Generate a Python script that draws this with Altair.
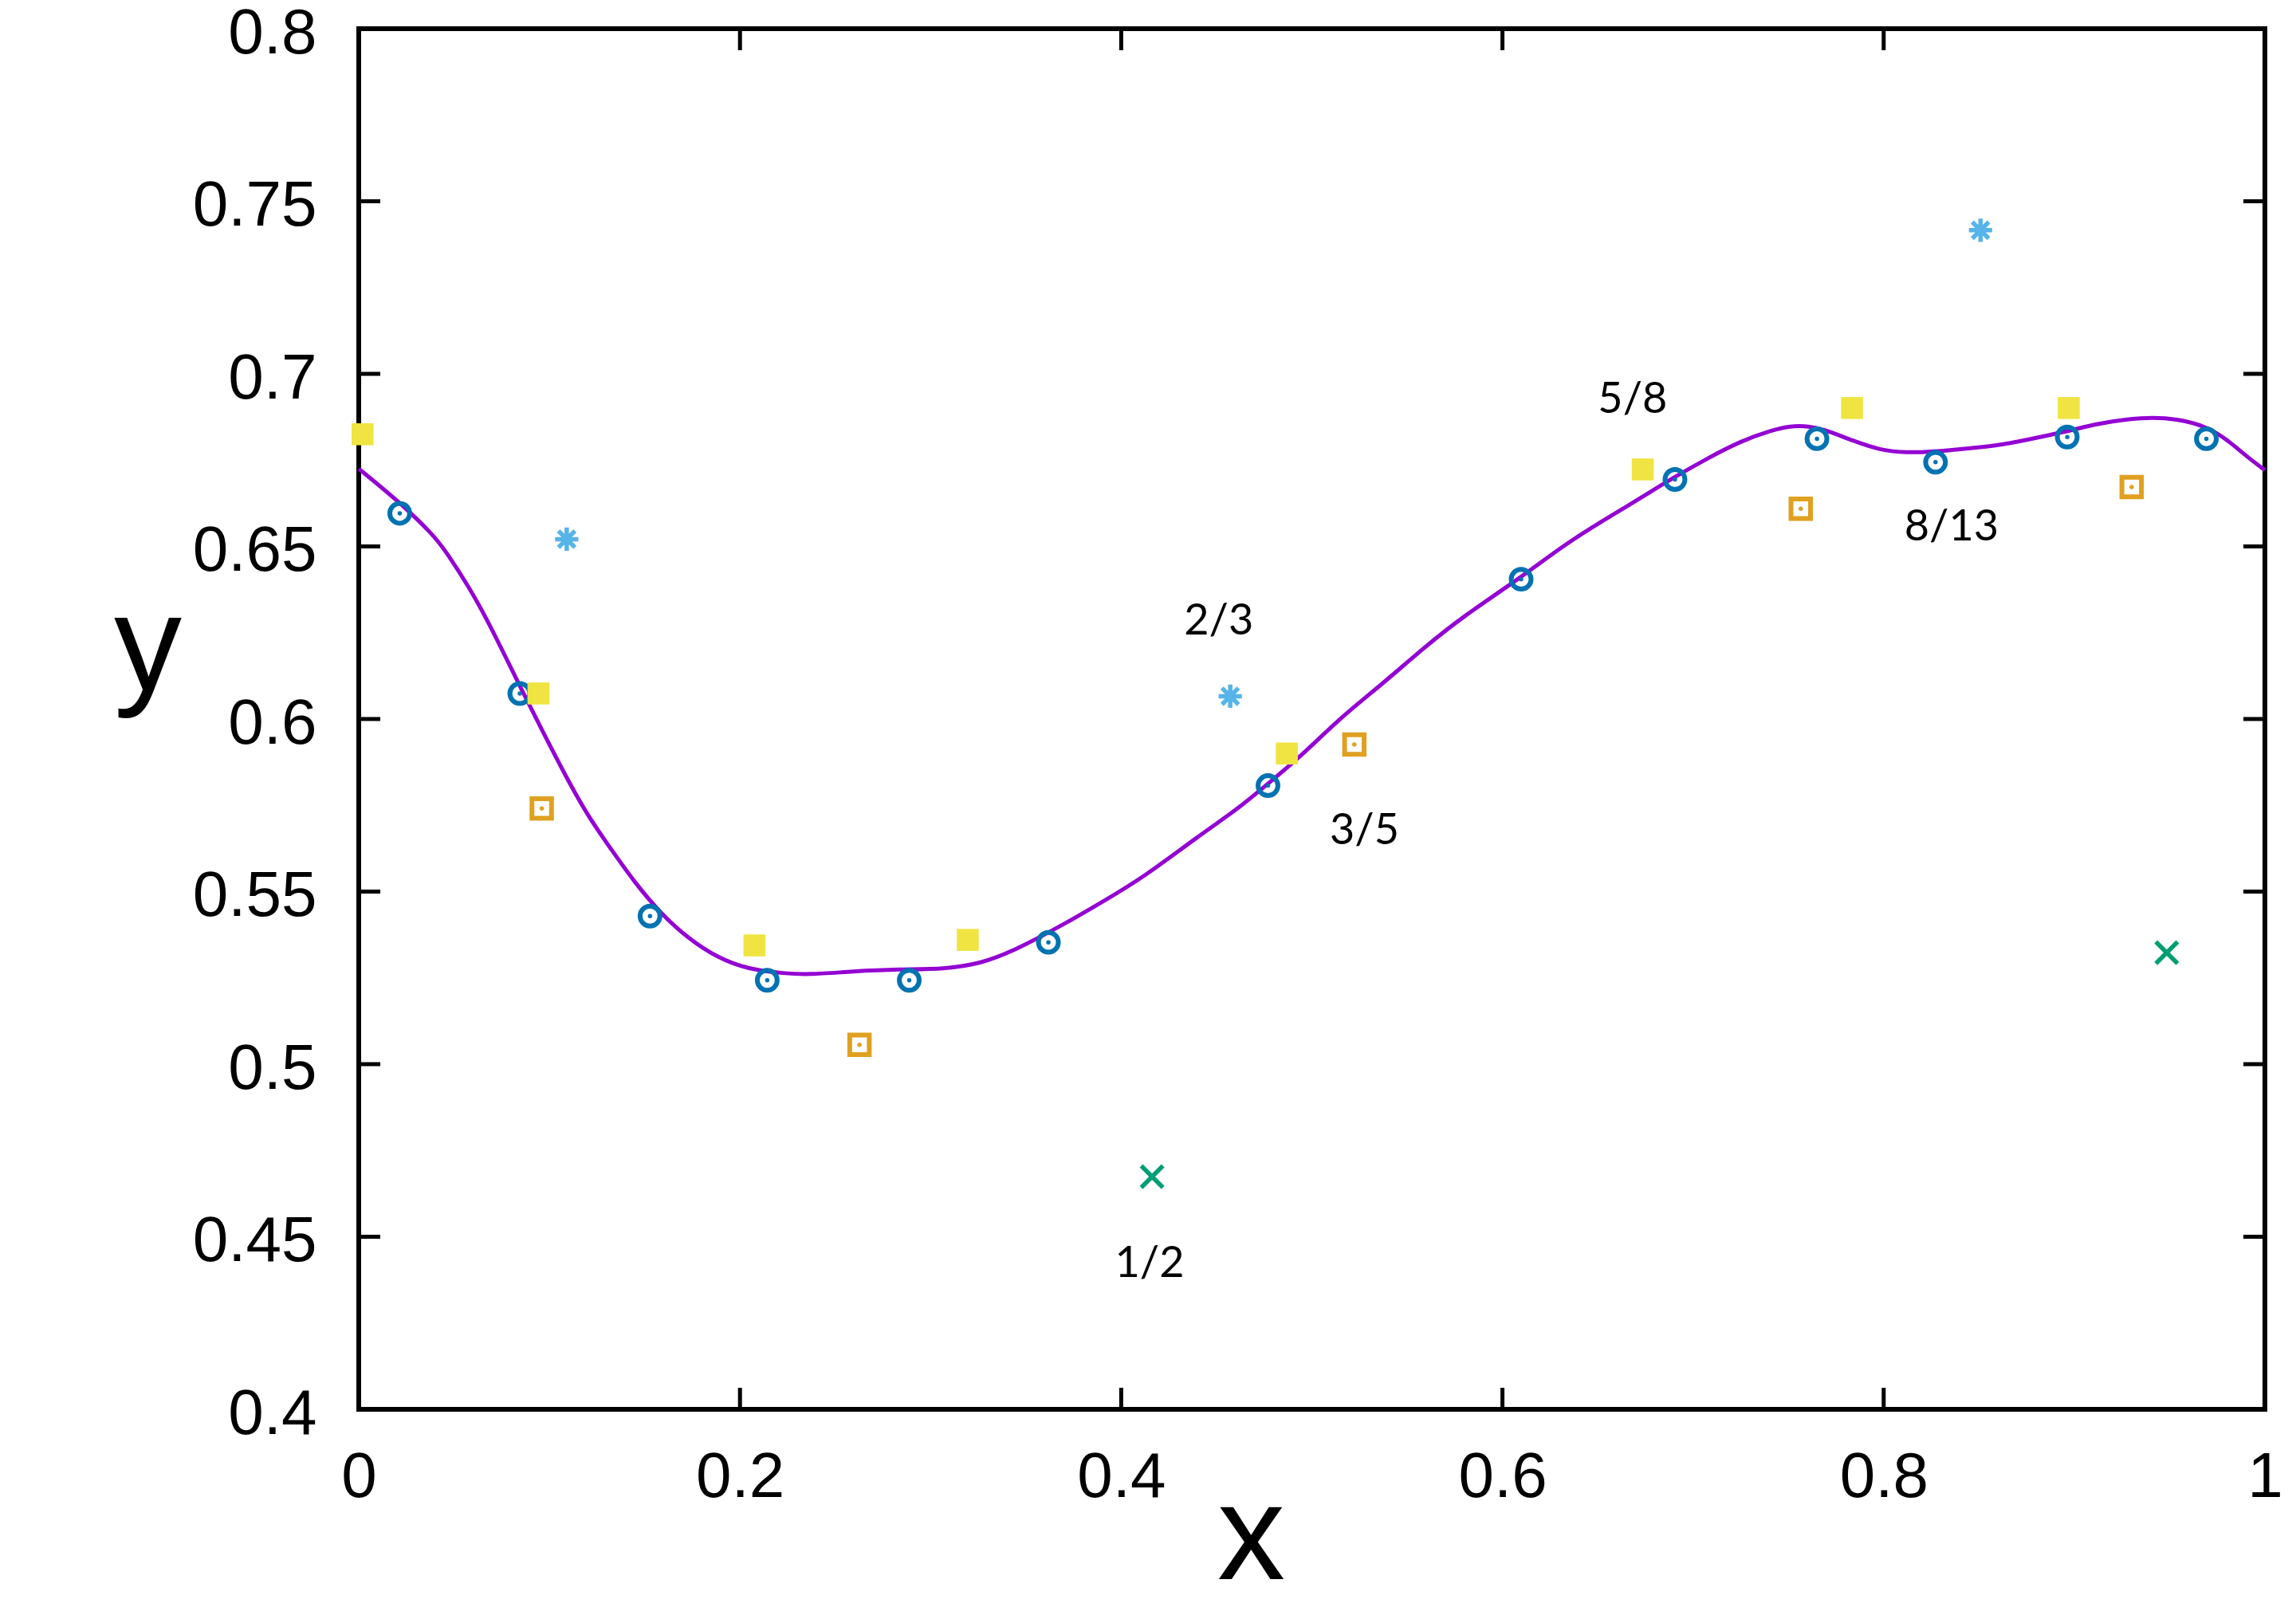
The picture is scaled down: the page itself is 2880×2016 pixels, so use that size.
import altair as alt
import pandas as pd

# ---- data ----
curve_x = [0.0, 0.0198, 0.0390, 0.0462, 0.0581, 0.0677, 0.0773, 0.0857, 0.0965, 0.1085,
           0.1205, 0.1325, 0.1445, 0.1588, 0.1732, 0.1876, 0.2044, 0.2235, 0.2355, 0.2594,
           0.2834, 0.3074, 0.3266, 0.3433, 0.3716, 0.3900, 0.4111, 0.4408, 0.4621, 0.4770,
           0.4939, 0.5152, 0.5365, 0.5578, 0.5790, 0.6098, 0.6322, 0.6534, 0.6712, 0.6905,
           0.7065, 0.7252, 0.7416, 0.7510, 0.7604, 0.7698, 0.7839, 0.7980, 0.8121, 0.8261,
           0.8425, 0.8590, 0.8731, 0.8959, 0.9130, 0.9294, 0.9412, 0.9529, 0.9693, 0.9810,
           0.9905, 1.0]
curve_y = [0.6725, 0.6636, 0.6535, 0.6482, 0.6380, 0.6284, 0.6177, 0.6082, 0.5964, 0.5835,
           0.5716, 0.5622, 0.5528, 0.5434, 0.5363, 0.5310, 0.5274, 0.5263, 0.5259, 0.5269,
           0.5275, 0.5275, 0.5292, 0.5327, 0.5410, 0.5470, 0.5539, 0.5662, 0.5743, 0.5813,
           0.5890, 0.6005, 0.6099, 0.6202, 0.6296, 0.6410, 0.6504, 0.6577, 0.6636, 0.6702,
           0.6752, 0.6806, 0.6837, 0.6849, 0.6849, 0.6837, 0.6806, 0.6779, 0.6771, 0.6775,
           0.6783, 0.6792, 0.6806, 0.6833, 0.6857, 0.6870, 0.6874, 0.6870, 0.6849, 0.6806,
           0.6760, 0.6721]

circle_x = [0.0215, 0.0845, 0.1528, 0.2143, 0.2888, 0.3618, 0.4770, 0.6098, 0.6905, 0.7650, 0.8272, 0.8963, 0.9693]
circle_y = [0.6596, 0.6074, 0.5429, 0.5243, 0.5243, 0.5353, 0.5807, 0.6405, 0.6694, 0.6812, 0.6744, 0.6817, 0.6812]

yellow_x = [0.0020, 0.0943, 0.2076, 0.3195, 0.4869, 0.6736, 0.7834, 0.8971]
yellow_y = [0.6825, 0.6074, 0.5344, 0.5360, 0.5900, 0.6723, 0.6901, 0.6901]

orange_x = [0.0960, 0.2627, 0.5223, 0.7565, 0.9301]
orange_y = [0.5741, 0.5056, 0.5926, 0.6609, 0.6672]

star_x = [0.1091, 0.4572, 0.8508]
star_y = [0.6521, 0.6066, 0.7416]

cross_x = [0.4162, 0.9485]
cross_y = [0.4674, 0.5323]

label_text = ["1/2", "3/5", "2/3", "5/8", "8/13"]
label_x = [0.4149, 0.5276, 0.4512, 0.6683, 0.8356]
label_y = [0.4420, 0.5674, 0.6281, 0.6924, 0.6555]

x_ticks = [0.0, 0.2, 0.4, 0.6, 0.8, 1.0]
y_ticks = [0.4, 0.45, 0.5, 0.55, 0.6, 0.65, 0.7, 0.75, 0.8]

# ---- layout ----
W, H = 2391, 1732
TICK = 27

BLUE = "#0072b2"
YELLOW = "#f0e442"
ORANGE = "#e0a020"
LIGHTBLUE = "#56b4e9"
GREEN = "#009e73"
PURPLE = "#9400d3"

xs = alt.Scale(domain=[0, 1], nice=False, zero=False)
ys = alt.Scale(domain=[0.4, 0.8], nice=False, zero=False)

x_axis = alt.Axis(values=x_ticks, format="~g", labelPadding=46, labelFlush=False, title="x",
                  titleX=1119, titleY=212, titleAlign="center", titleBaseline="alphabetic",
                  titleAngle=0)
y_axis = alt.Axis(values=y_ticks, format="~g", labelPadding=53, labelOffset=6, labelFlush=False,
                  title="y", titleAngle=0, titleX=-265, titleY=829, titleAlign="center",
                  titleBaseline="alphabetic")


def X(field):
    return alt.X(f"{field}:Q", scale=xs, axis=x_axis)


def Y(field):
    return alt.Y(f"{field}:Q", scale=ys, axis=y_axis)


curve_df = pd.DataFrame({"x": curve_x, "y": curve_y})
curve = alt.Chart(curve_df).mark_line(color=PURPLE, strokeWidth=5, interpolate="basis").encode(
    x=X("x"), y=Y("y"), order="x:Q"
)

circ_df = pd.DataFrame({"x": circle_x, "y": circle_y})
circles = alt.Chart(circ_df).mark_point(shape="circle", filled=False, size=620, strokeWidth=6,
                                        color=BLUE, opacity=1).encode(x=X("x"), y=Y("y"))
circ_dots = alt.Chart(circ_df).mark_point(shape="circle", filled=True, size=30, color=BLUE,
                                          opacity=1).encode(x=X("x"), y=Y("y"))

yel_df = pd.DataFrame({"x": yellow_x, "y": yellow_y})
yellows = alt.Chart(yel_df).mark_point(shape="square", filled=True, size=760, color=YELLOW,
                                       opacity=1, strokeWidth=0).encode(x=X("x"), y=Y("y"))

ora_df = pd.DataFrame({"x": orange_x, "y": orange_y})
oranges = alt.Chart(ora_df).mark_point(shape="square", filled=False, size=600, strokeWidth=6,
                                       color=ORANGE, opacity=1).encode(x=X("x"), y=Y("y"))
ora_dots = alt.Chart(ora_df).mark_point(shape="circle", filled=True, size=30, color=ORANGE,
                                        opacity=1).encode(x=X("x"), y=Y("y"))

star_path = "M-1,0L1,0M0,-1L0,1M-0.71,-0.71L0.71,0.71M-0.71,0.71L0.71,-0.71"
star_df = pd.DataFrame({"x": star_x, "y": star_y})
stars = alt.Chart(star_df).mark_point(shape=star_path, filled=False, size=850, strokeWidth=5.5,
                                      color=LIGHTBLUE, opacity=1).encode(x=X("x"), y=Y("y"))

cross_path = "M-1,-1L1,1M-1,1L1,-1"
cross_df = pd.DataFrame({"x": cross_x, "y": cross_y})
crosses = alt.Chart(cross_df).mark_point(shape=cross_path, filled=False, size=740, strokeWidth=5.5,
                                         color=GREEN, opacity=1).encode(x=X("x"), y=Y("y"))

lab_df = pd.DataFrame({"x": label_x, "y": label_y, "t": label_text})
labels = alt.Chart(lab_df).mark_text(font="Lato", fontSize=54, color="black", align="center",
                                     baseline="middle").encode(x=X("x"), y=Y("y"), text="t:N")

# inward tick marks on all four sides
yt_df = pd.DataFrame({"v": y_ticks})
xt_df = pd.DataFrame({"v": x_ticks})
tick_style = dict(color="black", strokeWidth=5)
left_ticks = alt.Chart(yt_df).mark_rule(**tick_style).encode(
    y=Y("v"), x=alt.value(0), x2=alt.value(TICK))
right_ticks = alt.Chart(yt_df).mark_rule(**tick_style).encode(
    y=Y("v"), x=alt.value(W - TICK), x2=alt.value(W))
bottom_ticks = alt.Chart(xt_df).mark_rule(**tick_style).encode(
    x=X("v"), y=alt.value(H), y2=alt.value(H - TICK))
top_ticks = alt.Chart(xt_df).mark_rule(**tick_style).encode(
    x=X("v"), y=alt.value(0), y2=alt.value(TICK))

chart = alt.layer(
    curve, left_ticks, right_ticks, bottom_ticks, top_ticks,
    circles, circ_dots, yellows, oranges, ora_dots, stars, crosses, labels
).properties(
    width=W, height=H,
    autosize=alt.AutoSizeParams(type="none"),
    padding={"left": 442, "top": 28, "right": 28, "bottom": 232},
    background="white",
).configure_view(
    stroke="black", strokeWidth=6
).configure_axis(
    grid=False, domain=False, ticks=False, tickSize=0,
    labelFont="Liberation Sans", labelFontSize=80, labelColor="black",
    titleFont="Liberation Sans", titleFontSize=170, titleFontWeight="normal", titleColor="black",
)

chart.save("out.html", embed_options={"renderer": "svg", "actions": False})
